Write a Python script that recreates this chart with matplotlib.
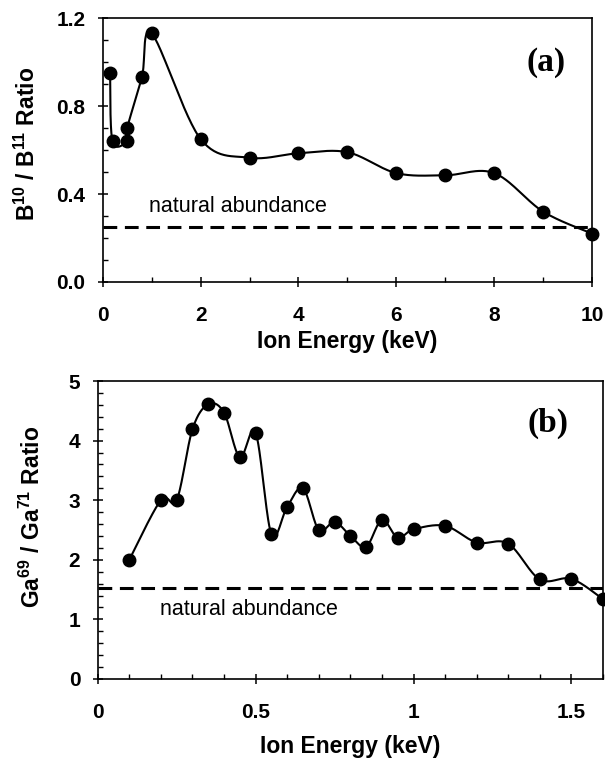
import numpy as np
import matplotlib
matplotlib.use("Agg")
import matplotlib.pyplot as plt
from matplotlib.ticker import MultipleLocator, FormatStrFormatter, FuncFormatter

plt.rcParams['font.family'] = ['Liberation Sans', 'DejaVu Sans']
plt.rcParams['mathtext.fontset'] = 'custom'
plt.rcParams['mathtext.rm'] = 'Liberation Sans:bold'
plt.rcParams['mathtext.bf'] = 'Liberation Sans:bold'
plt.rcParams['mathtext.it'] = 'Liberation Sans:bold'

# ---- data (a) boron ----
b_energy = [0.15, 0.2, 0.5, 0.5, 0.8, 1.0, 2, 3, 4, 5, 6, 7, 8, 9, 10]
b_ratio = [0.95, 0.64, 0.64, 0.70, 0.93, 1.13, 0.65, 0.565, 0.585, 0.59, 0.495, 0.485, 0.495, 0.32, 0.22]
b_natural = 0.25

# ---- data (b) gallium ----
ga_energy = [0.1, 0.2, 0.25, 0.3, 0.35, 0.4, 0.45, 0.5, 0.55, 0.6, 0.65, 0.7, 0.75, 0.8,
             0.85, 0.9, 0.95, 1.0, 1.1, 1.2, 1.3, 1.4, 1.5, 1.6]
ga_ratio = [2.0, 3.0, 3.0, 4.19, 4.61, 4.47, 3.72, 4.13, 2.43, 2.89, 3.20, 2.50, 2.64, 2.40,
            2.22, 2.67, 2.37, 2.51, 2.57, 2.29, 2.27, 1.67, 1.68, 1.34]
ga_natural = 1.53

W, H = 605, 764
fig = plt.figure(figsize=(W / 100, H / 100), dpi=100)
ax1 = fig.add_axes([0.1698, 0.6309, 0.8088, 0.3455])
ax2 = fig.add_axes([0.1615, 0.1113, 0.8352, 0.3900])


def smooth_plot(ax, xs, ys, n=30):
    pts = ax.transData.transform(np.column_stack([xs, ys]))
    P = np.vstack([pts[0], pts, pts[-1]])
    out = []
    t = np.linspace(0, 1, n)[:, None]
    for i in range(1, len(P) - 2):
        p0, p1, p2, p3 = P[i - 1], P[i], P[i + 1], P[i + 2]
        c1 = p1 + (p2 - p0) / 6.0
        c2 = p2 - (p3 - p1) / 6.0
        seg = ((1 - t) ** 3) * p1 + 3 * ((1 - t) ** 2) * t * c1 + 3 * (1 - t) * t ** 2 * c2 + t ** 3 * p2
        out.append(seg)
    curve = np.vstack(out)
    data = ax.transData.inverted().transform(curve)
    ax.plot(data[:, 0], data[:, 1], color='black', lw=1.5, zorder=3)


def style(ax):
    for s in ax.spines.values():
        s.set_linewidth(1.2)
    ax.tick_params(which='major', direction='inout', length=7, width=1.1, labelsize=15)
    ax.tick_params(axis='x', which='major', pad=14)
    ax.tick_params(axis='y', which='major', pad=9)
    ax.tick_params(which='minor', direction='in', length=3.5, width=1.0)
    ax.tick_params(top=False, right=False, which='both')
    for lab in ax.get_xticklabels() + ax.get_yticklabels():
        lab.set_fontweight('bold')


# ---- panel (a) ----
ax1.set_xlim(0, 10)
ax1.set_ylim(0, 1.2)
ax1.xaxis.set_major_locator(MultipleLocator(2))
ax1.xaxis.set_minor_locator(MultipleLocator(1))
ax1.yaxis.set_major_locator(MultipleLocator(0.4))
ax1.yaxis.set_minor_locator(MultipleLocator(0.1))
ax1.yaxis.set_major_formatter(FormatStrFormatter('%.1f'))
ax1.axhline(b_natural, color='black', lw=2.2, dashes=(4.5, 2.5), zorder=2)
fig.canvas.draw()
smooth_plot(ax1, b_energy, b_ratio)
ax1.plot(b_energy, b_ratio, 'o', color='black', ms=9, zorder=4, clip_on=False)
ax1.text(0.94, 0.342, 'natural abundance', fontsize=15.5, va='center', ha='left')
ax1.text(9.07, 1.0, '(a)', fontsize=24, fontweight='bold', family='Liberation Serif',
         ha='center', va='center')
style(ax1)

# ---- panel (b) ----
ax2.set_xlim(0, 1.6)
ax2.set_ylim(0, 5)
ax2.xaxis.set_major_locator(MultipleLocator(0.5))
ax2.xaxis.set_minor_locator(MultipleLocator(0.1))
ax2.yaxis.set_major_locator(MultipleLocator(1))
ax2.yaxis.set_minor_locator(MultipleLocator(0.2))
ax2.xaxis.set_major_formatter(FuncFormatter(lambda v, p: ('%g' % v)))
ax2.axhline(ga_natural, color='black', lw=2.2, dashes=(4.5, 2.5), zorder=2)
fig.canvas.draw()
smooth_plot(ax2, ga_energy, ga_ratio)
ax2.plot(ga_energy, ga_ratio, 'o', color='black', ms=9, zorder=4, clip_on=False)
ax2.text(0.197, 1.16, 'natural abundance', fontsize=15.5, va='center', ha='left')
ax2.text(1.425, 4.29, '(b)', fontsize=24, fontweight='bold', family='Liberation Serif',
         ha='center', va='center')
style(ax2)

# axis titles placed at measured positions
lab_kw = dict(fontsize=16.5, fontweight='bold', ha='center', va='center')
fig.text(347.5 / W, 1 - 341.5 / H, 'Ion Energy (keV)', **lab_kw)
fig.text(350 / W, 1 - 747 / H, 'Ion Energy (keV)', **lab_kw)
fig.text(27 / W, 1 - 144 / H, r'B$^{10}$ / B$^{11}$ Ratio', rotation=90, **lab_kw)
fig.text(32 / W, 1 - 517 / H, r'Ga$^{69}$ / Ga$^{71}$ Ratio', rotation=90, **lab_kw)

fig.savefig('out.png', dpi=100)
